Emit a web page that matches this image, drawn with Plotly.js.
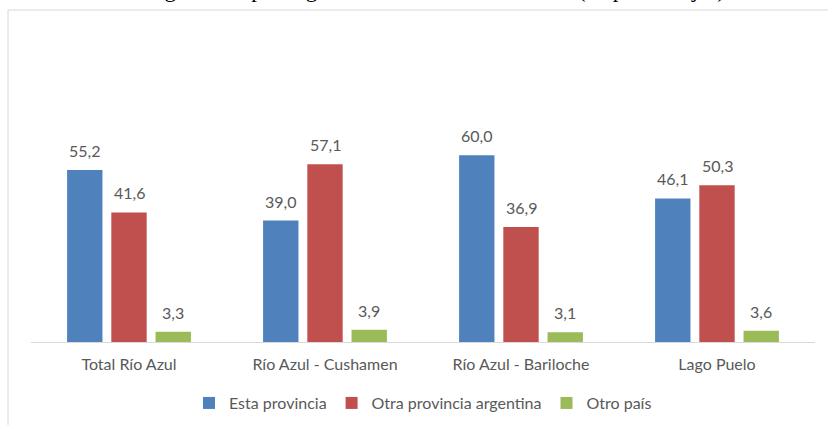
<!DOCTYPE html>
<html>
<head>
<meta charset="utf-8">
<script src="https://cdn.plot.ly/plotly-3.0.1.min.js"></script>
<style>
html,body{margin:0;padding:0;background:#fff;overflow:hidden;}
#chart{width:828px;height:425px;}
</style>
</head>
<body>
<div id="chart"></div>
<script>
var categories = ["Total Río Azul", "Río Azul - Cushamen", "Río Azul - Bariloche", "Lago Puelo"];
var estaProvincia = [55.2, 39.0, 60.0, 46.1];
var otraProvincia = [41.6, 57.1, 36.9, 50.3];
var otroPais = [3.3, 3.9, 3.1, 3.6];
var seriesNames = ["Esta provincia", "Otra provincia argentina", "Otro país"];
var headerText = "Población de Lago Puelo por lugar de nacimiento. Año 2010 (en porcentajes)";

var colors = ["#4F81BD", "#C0504D", "#9BBB59"];
var font = "Lato, 'Open Sans', sans-serif";
var seriesValues = [estaProvincia, otraProvincia, otroPais];

var plotW = 828 - 31 - 13;
var bargap = 0.323;
var slotPx = plotW / categories.length * (1 - bargap) / seriesValues.length;

var traces = seriesValues.map(function (vals, i) {
  return {
    type: "bar",
    name: seriesNames[i],
    x: categories,
    y: vals,
    marker: { color: colors[i] },
    textposition: "none",
    hoverinfo: "x+y+name"
  };
});

var labels = [];
seriesValues.forEach(function (vals, i) {
  vals.forEach(function (v, j) {
    labels.push({
      xref: "x", yref: "y",
      x: categories[j], y: v,
      xshift: (i - (seriesValues.length - 1) / 2) * slotPx,
      yshift: 8,
      yanchor: "bottom",
      xanchor: "center",
      text: v.toFixed(1).replace(".", ","),
      showarrow: false,
      font: { family: font, size: 16, color: "#595959" }
    });
  });
});

labels.push({
  text: headerText,
  xref: "paper", yref: "paper",
  x: (727 - 31) / plotW, xanchor: "right",
  y: 1.55, yanchor: "bottom",
  showarrow: false,
  font: { family: "'Liberation Serif', 'Times New Roman', serif", size: 23, color: "#000000" }
});

var layout = {
  width: 828,
  height: 425,
  margin: { l: 31, r: 13, t: 124, b: 83, autoexpand: false },
  paper_bgcolor: "#ffffff",
  plot_bgcolor: "#ffffff",
  separators: ",.",
  barmode: "group",
  bargap: bargap,
  bargroupgap: 0.2,
  showlegend: true,
  legend: {
    orientation: "h",
    x: 0.5,
    xanchor: "center",
    y: -0.202,
    yanchor: "top",
    font: { family: font, size: 16, color: "#595959" },
    itemwidth: 30,
    tracegroupgap: 0
  },
  xaxis: {
    type: "category",
    showgrid: false,
    showline: true,
    linecolor: "#d9d9d9",
    linewidth: 1,
    ticks: "",
    ticklabelstandoff: 8,
    tickfont: { family: font, size: 16, color: "#595959" },
    zeroline: false,
    automargin: false
  },
  yaxis: {
    range: [0, 70],
    visible: false,
    showgrid: false,
    zeroline: false
  },
  shapes: [
    {
      type: "rect",
      xref: "paper", yref: "paper",
      x0: -0.0293, x1: 1.03, y0: -0.45, y1: 1.523,
      line: { color: "#d9d9d9", width: 1 },
      fillcolor: "rgba(0,0,0,0)",
      layer: "below"
    }
  ],
  annotations: labels
};

Plotly.newPlot("chart", traces, layout, { displayModeBar: false, staticPlot: true });
</script>
</body>
</html>
